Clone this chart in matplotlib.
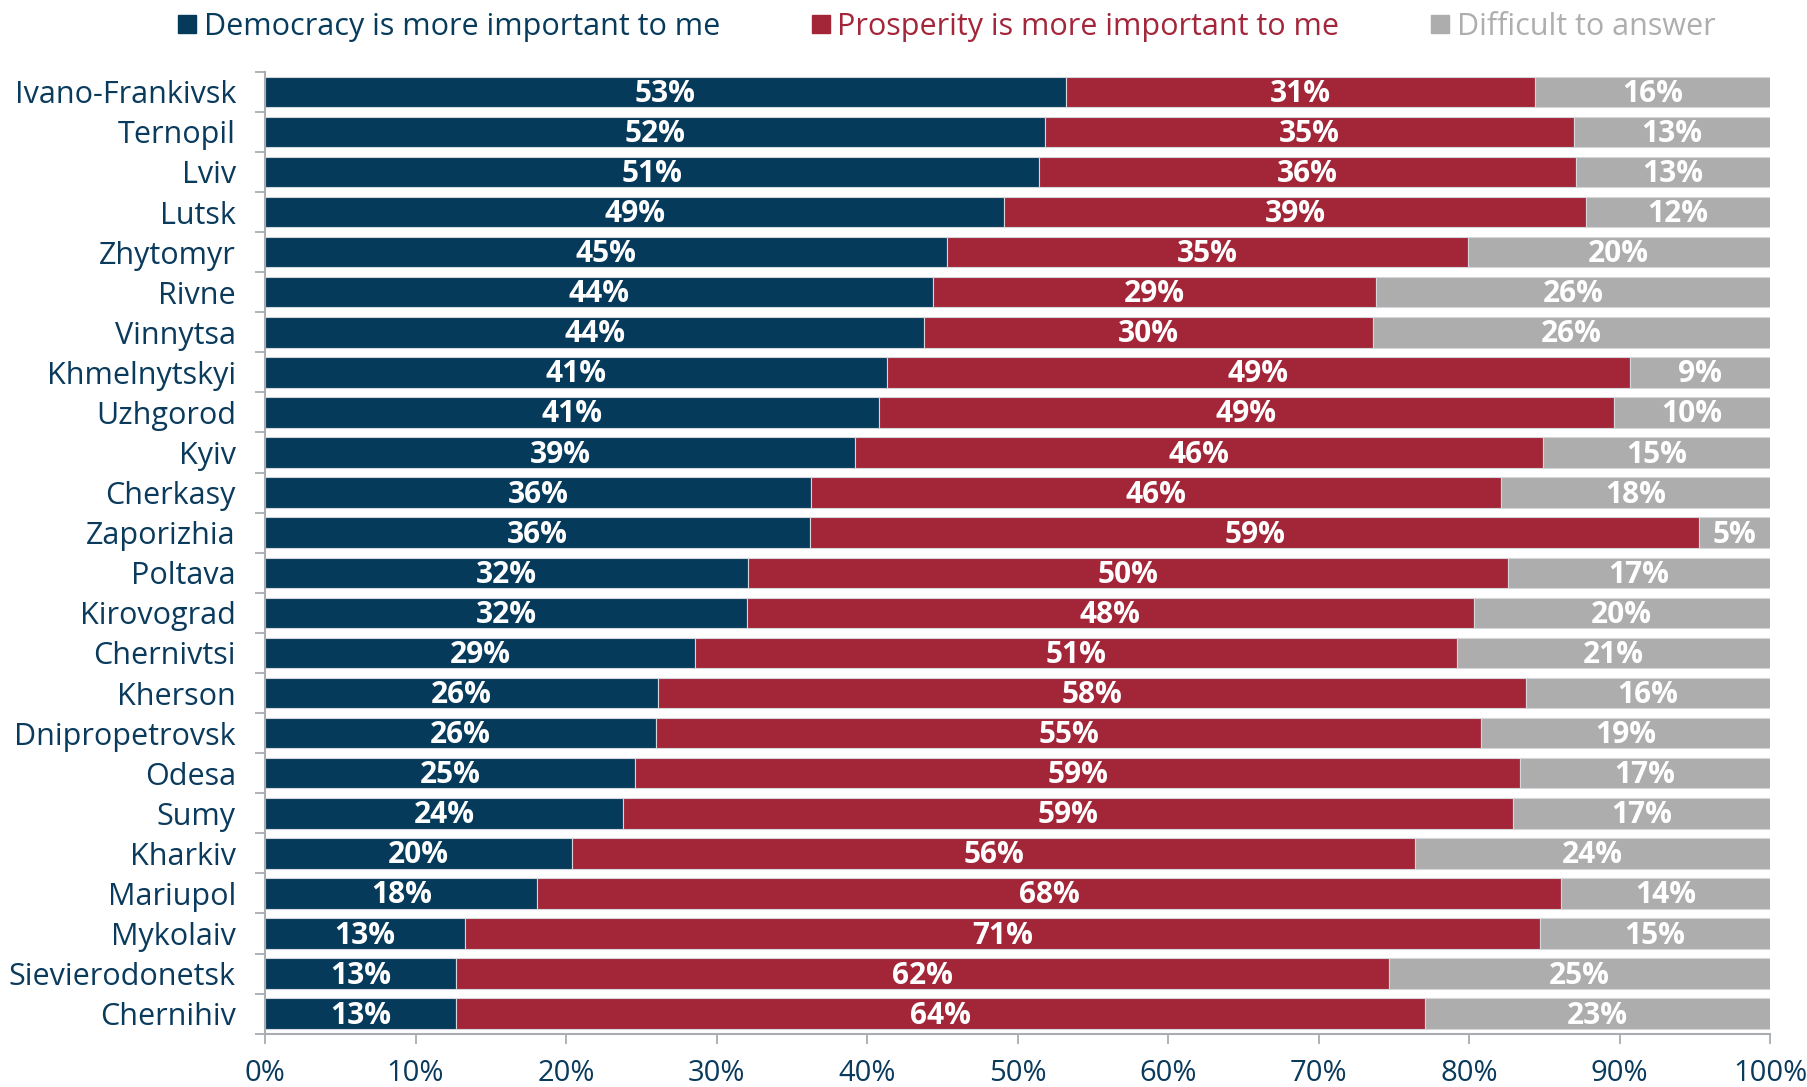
import numpy as np
import matplotlib
matplotlib.use("Agg")
import matplotlib.pyplot as plt
from matplotlib.lines import Line2D

plt.rcParams['font.family'] = ['Open Sans', 'DejaVu Sans']

# Data (share of respondents, %)
cities = ["Ivano-Frankivsk", "Ternopil", "Lviv", "Lutsk", "Zhytomyr", "Rivne",
          "Vinnytsa", "Khmelnytskyi", "Uzhgorod", "Kyiv", "Cherkasy", "Zaporizhia",
          "Poltava", "Kirovograd", "Chernivtsi", "Kherson", "Dnipropetrovsk",
          "Odesa", "Sumy", "Kharkiv", "Mariupol", "Mykolaiv", "Sievierodonetsk",
          "Chernihiv"]
democracy = [53.2, 51.8, 51.4, 49.1, 45.3, 44.4, 43.8, 41.3, 40.8, 39.2, 36.3, 36.2,
             32.1, 32.0, 28.6, 26.1, 26.0, 24.6, 23.8, 20.4, 18.1, 13.3, 12.7, 12.7]
prosperity = [31.2, 35.2, 35.7, 38.7, 34.6, 29.4, 29.8, 49.4, 48.8, 45.7, 45.8, 59.1,
              50.5, 48.3, 50.6, 57.7, 54.8, 58.8, 59.1, 56.0, 68.0, 71.4, 62.0, 64.4]
difficult = [15.6, 13.0, 12.9, 12.2, 20.1, 26.2, 26.4, 9.3, 10.4, 15.1, 17.9, 4.7,
             17.4, 19.7, 20.8, 16.2, 19.2, 16.6, 17.1, 23.6, 13.9, 15.3, 25.3, 22.9]
series_names = ["Democracy is more important to me",
                "Prosperity is more important to me",
                "Difficult to answer"]

bar_colors = ["#053A5B", "#A32638", "#ADADAE"]
text_colors = ["#073B5C", "#A3263A", "#AEAEAE"]
axis_grey = "#A9ACB0"
navy = "#0A3A5C"

fig = plt.figure(figsize=(18.08, 10.87), dpi=100)
ax = fig.add_axes([0.1466, 0.0490, 0.9790 - 0.1466, 0.9340 - 0.0490])

y = np.arange(len(cities))
left = np.zeros(len(cities))
for vals, col in zip([democracy, prosperity, difficult], bar_colors):
    vals = np.array(vals)
    ax.barh(y, vals, left=left, height=0.76, color=col,
            edgecolor="#D3D6DA", linewidth=0.8)
    # white % labels in the middle of each segment (nudged down a touch)
    for yi, l, v in zip(y, left, vals):
        ax.text(l + v / 2, yi + 0.05, f"{v:.0f}%", ha="center", va="center",
                color="white", fontsize=21.5, fontweight="bold")
    left += vals

ax.set_xlim(0, 100)
ax.set_ylim(len(cities) - 0.5, -0.5)

ax.set_xticks(np.arange(0, 101, 10))
ax.set_xticklabels([f"{t}%" for t in range(0, 101, 10)])
ax.set_yticks(y)
ax.set_yticklabels(cities)
ax.set_yticks(np.arange(-0.5, len(cities)), minor=True)

ax.tick_params(axis="y", which="major", length=0, pad=21, labelsize=22,
               labelcolor=navy)
ax.tick_params(axis="y", which="minor", length=7.5, width=1.3, color=axis_grey)
ax.tick_params(axis="x", which="major", length=7.5, width=1.3, color=axis_grey,
               pad=11, labelsize=21, labelcolor=navy)

for s in ["top", "right"]:
    ax.spines[s].set_visible(False)
for s in ["left", "bottom"]:
    ax.spines[s].set_color(axis_grey)
    ax.spines[s].set_linewidth(1.5)

handles = [Line2D([], [], marker="s", linestyle="none", markersize=13,
                  markerfacecolor=c, markeredgecolor=c) for c in bar_colors]
fig.legend(handles, series_names, loc="center", bbox_to_anchor=(0.5236, 0.975),
           ncol=3, frameon=False, fontsize=22, labelcolor=text_colors,
           handlelength=0.6, handletextpad=0.25, columnspacing=3.0)

fig.savefig("out.png", dpi=100)
